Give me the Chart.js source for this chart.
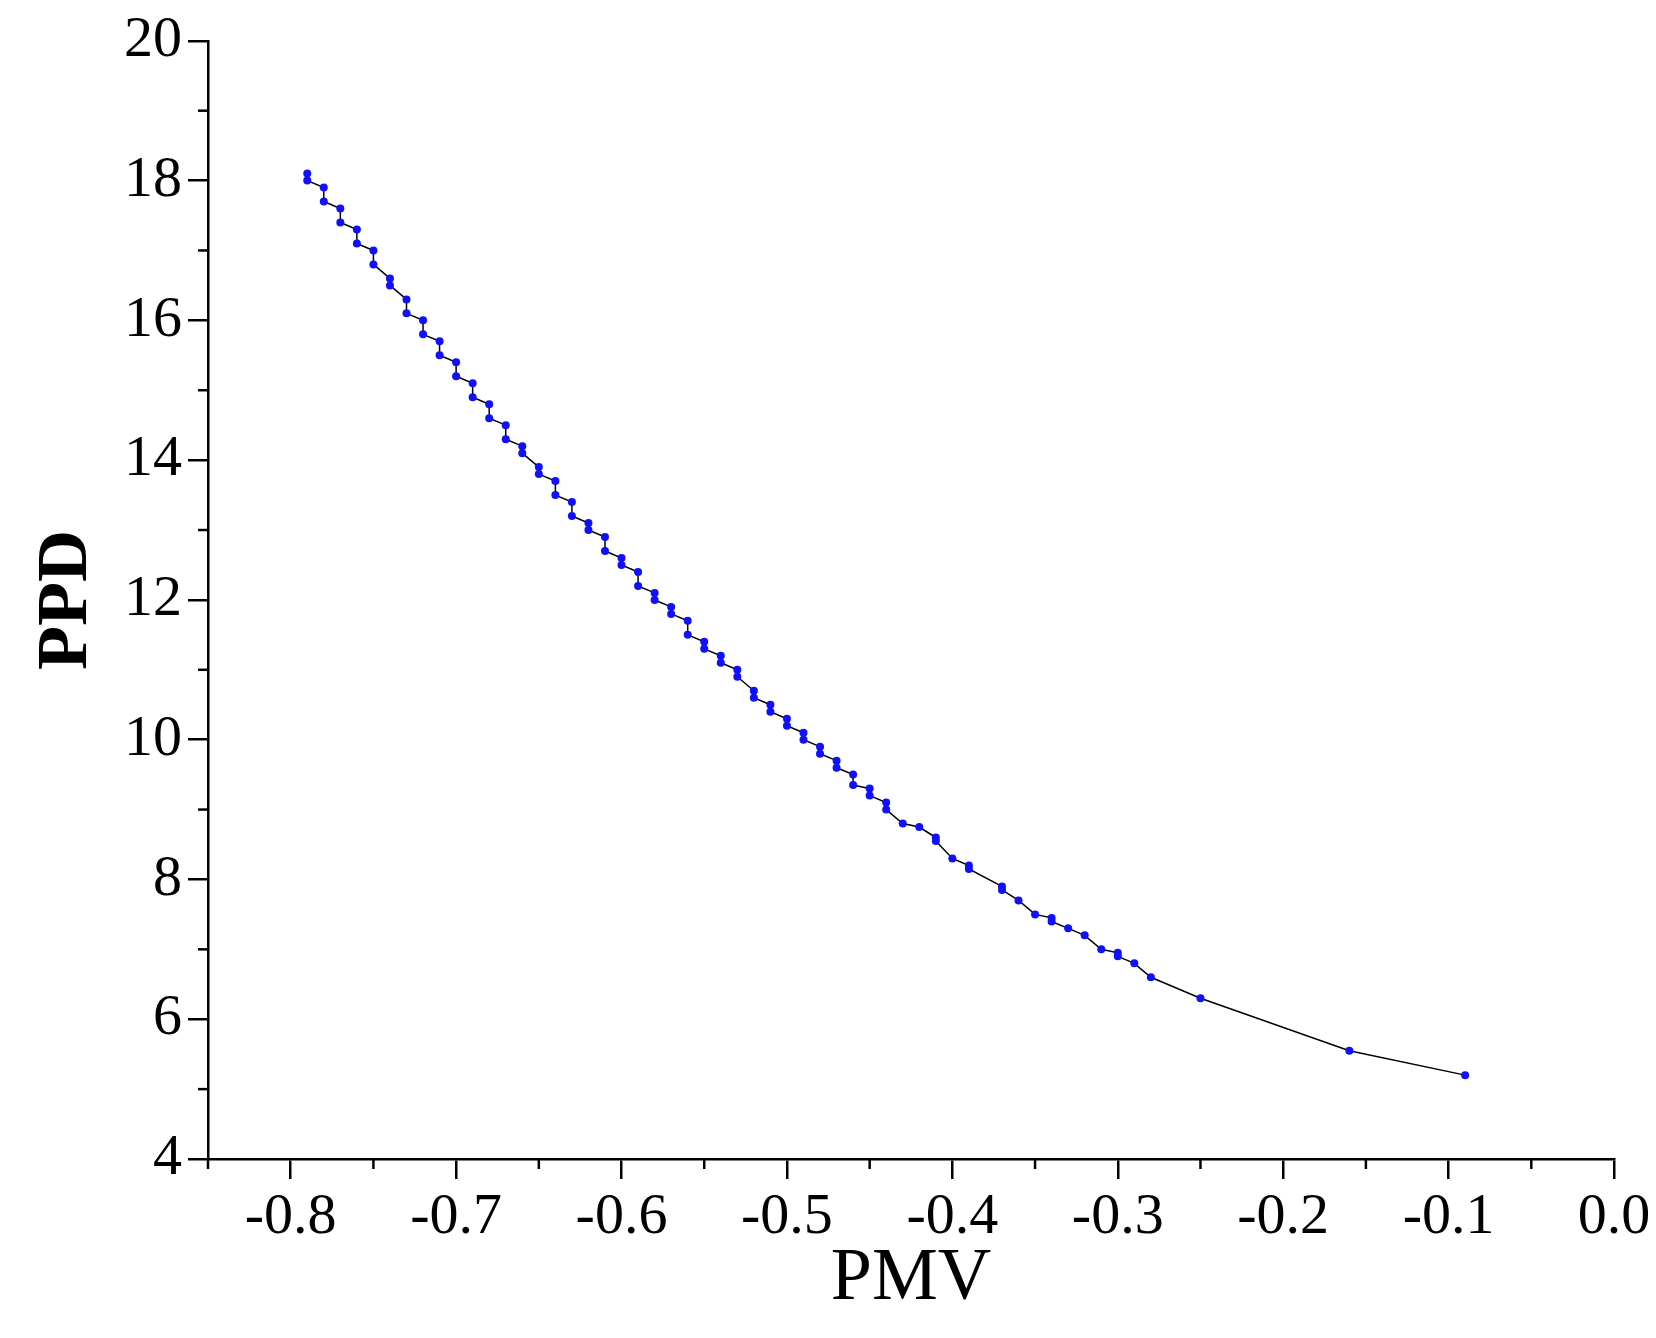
<!DOCTYPE html>
<html><head><meta charset="utf-8">
<script src="https://cdn.jsdelivr.net/npm/chart.js@4"></script>
<style>html,body{margin:0;padding:0;background:#fff}#w{width:1656px;height:1338px}</style>
</head><body><div id="w"><canvas id="c"></canvas></div>
<script>
const pmv = [-0.79,-0.79,-0.78,-0.78,-0.77,-0.77,-0.76,-0.76,-0.75,-0.75,-0.74,-0.74,-0.73,-0.73,-0.72,-0.72,-0.71,-0.71,-0.70,-0.70,-0.69,-0.69,-0.68,-0.68,-0.67,-0.67,-0.66,-0.66,-0.65,-0.65,-0.64,-0.64,-0.63,-0.63,-0.62,-0.62,-0.61,-0.61,-0.60,-0.60,-0.59,-0.59,-0.58,-0.58,-0.57,-0.57,-0.56,-0.56,-0.55,-0.55,-0.54,-0.54,-0.53,-0.53,-0.52,-0.52,-0.51,-0.51,-0.50,-0.50,-0.49,-0.49,-0.48,-0.48,-0.47,-0.47,-0.46,-0.46,-0.45,-0.45,-0.44,-0.44,-0.43,-0.42,-0.41,-0.41,-0.40,-0.39,-0.39,-0.37,-0.37,-0.36,-0.35,-0.34,-0.34,-0.33,-0.32,-0.31,-0.30,-0.30,-0.29,-0.28,-0.25,-0.16,-0.09];
const ppd = [18.1,18.0,17.9,17.7,17.6,17.4,17.3,17.1,17.0,16.8,16.6,16.5,16.3,16.1,16.0,15.8,15.7,15.5,15.4,15.2,15.1,14.9,14.8,14.6,14.5,14.3,14.2,14.1,13.9,13.8,13.7,13.5,13.4,13.2,13.1,13.0,12.9,12.7,12.6,12.5,12.4,12.2,12.1,12.0,11.9,11.8,11.7,11.5,11.4,11.3,11.2,11.1,11.0,10.9,10.7,10.6,10.5,10.4,10.3,10.2,10.1,10.0,9.9,9.8,9.7,9.6,9.5,9.35,9.3,9.2,9.1,9.0,8.8,8.75,8.6,8.55,8.3,8.2,8.15,7.9,7.85,7.7,7.5,7.45,7.4,7.3,7.2,7.0,6.95,6.9,6.8,6.6,6.3,5.55,5.2];
const xTicks = [-0.8,-0.7,-0.6,-0.5,-0.4,-0.3,-0.2,-0.1,0.0];
const yTicks = [4,6,8,10,12,14,16,18,20];
const xMinor = [-0.85,-0.75,-0.65,-0.55,-0.45,-0.35,-0.25,-0.15,-0.05];
const yMinor = [5,7,9,11,13,15,17,19];

const minorPlugin = {
  id:'minor',
  afterDraw(ch){
    const c = ch.ctx, xs = ch.scales.x, ys = ch.scales.y, a = ch.chartArea;
    c.save(); c.strokeStyle='#000'; c.lineWidth=2.5;
    xMinor.forEach(v=>{const p=xs.getPixelForValue(v);c.beginPath();c.moveTo(p,a.bottom);c.lineTo(p,a.bottom+10);c.stroke();});
    yMinor.forEach(v=>{const p=ys.getPixelForValue(v);c.beginPath();c.moveTo(a.left,p);c.lineTo(a.left-10,p);c.stroke();});
    c.restore();
  }
};
const font = {family:'"Liberation Serif", "Times New Roman", serif', size:58};
new Chart(document.getElementById('c'), {
  type:'line',
  data:{datasets:[{data:pmv.map((x,i)=>({x, y:ppd[i]})), borderColor:'#000', borderWidth:1.5,
    pointBackgroundColor:'#1010ff', pointBorderColor:'#1010ff', pointRadius:4, pointBorderWidth:0, tension:0}]},
  options:{
    responsive:true, maintainAspectRatio:false, animation:false,
    plugins:{legend:{display:false}, tooltip:{enabled:false}},
    layout:{padding:{left:20, right:42, top:29, bottom:10}},
    scales:{
      x:{type:'linear', min:-0.85, max:0,
        afterBuildTicks:s=>{s.ticks = xTicks.map(v=>({value:v}));},
        afterFit:s=>{s.height = 1338-1159-10;},
        border:{color:'#000', width:2.5},
        grid:{drawOnChartArea:false, color:'#000', lineWidth:2.5, tickLength:20},
        ticks:{color:'#000', font, padding:4, maxRotation:0, callback:v=>v.toFixed(1)},
        title:{display:true, text:'PMV', color:'#000', font:{family:font.family, size:74}, padding:{top:0}}},
      y:{type:'linear', min:4, max:20,
        afterBuildTicks:s=>{s.ticks = yTicks.map(v=>({value:v}));},
        afterFit:s=>{s.width = 208-20;},
        border:{color:'#000', width:2.5},
        grid:{drawOnChartArea:false, color:'#000', lineWidth:2.5, tickLength:20},
        ticks:{color:'#000', font, padding:6, callback:v=>String(v)},
        title:{display:true, text:'PPD', color:'#000', font:{family:font.family, size:72, weight:'bold'}, padding:{bottom:10}}}
    }
  },
  plugins:[minorPlugin]
});
</script></body></html>
